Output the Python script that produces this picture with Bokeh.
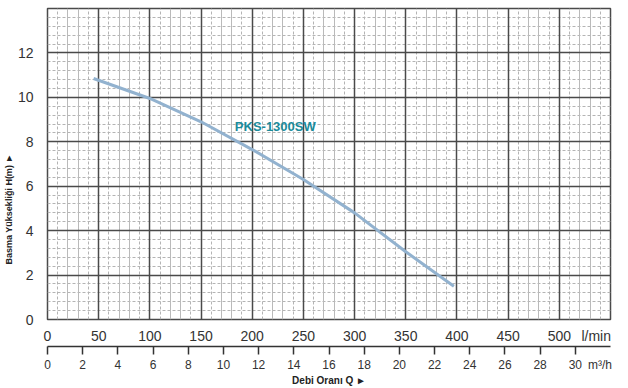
from bokeh.plotting import figure
from bokeh.models import Range1d, LinearAxis, FixedTicker, Grid, Title
from bokeh.core.properties import value
from bokeh.embed import file_html
from bokeh.resources import INLINE

# ---- data ----
flow_lpm = [45, 100, 150, 200, 250, 300, 350, 397]
head_m = [10.85, 9.95, 8.9, 7.65, 6.3, 4.8, 3.05, 1.5]
series_name = ["PKS-1300SW"]
series_label_x = [183]
series_label_y = [8.7]

x_ticks_lpm = [0, 50, 100, 150, 200, 250, 300, 350, 400, 450, 500]
y_ticks = [0, 2, 4, 6, 8, 10, 12]
x_ticks_m3h = [0, 2, 4, 6, 8, 10, 12, 14, 16, 18, 20, 22, 24, 26, 28, 30]
x_max_lpm = 550
x_max_m3h = 32
y_max = 14
unit_lpm = "l/min"
unit_lpm_pos = 536
unit_m3h = "m³/h"
unit_m3h_pos = 31.4
x_title = "Debi Oranı Q ►"
y_title = "Basma Yüksekliği H(m) ►"

FONT = "Liberation Sans"

p = figure(width=628, height=388,
           x_range=Range1d(0, x_max_lpm), y_range=Range1d(0, y_max),
           output_backend="svg", toolbar_location=None,
           min_border_left=45, min_border_right=18, min_border_top=8,
           min_border_bottom=0)
p.extra_x_ranges = {"m3h": Range1d(0, x_max_m3h)}

p.outline_line_color = "#4a4a4a"
p.outline_line_width = 1.5
p.xgrid.visible = False
p.ygrid.visible = False

# ---- grids ----
major_x = list(range(0, x_max_lpm + 1, 50))
minor_x_solid = [v for v in range(0, x_max_lpm, 10) if v % 50 in (20, 30)]
minor_x_dash = [v for v in range(0, x_max_lpm, 10) if v % 50 in (10, 40)]
major_y = list(range(0, y_max + 1, 2))
minor_y = [round(i * 0.4, 2) for i in range(1, 35) if i % 5 != 0]

p.add_layout(Grid(dimension=1, ticker=FixedTicker(ticks=minor_y),
                  grid_line_color="#b4b4b4", grid_line_width=1,
                  grid_line_dash="3 2"))
p.add_layout(Grid(dimension=0, ticker=FixedTicker(ticks=minor_x_dash),
                  grid_line_color="#b4b4b4", grid_line_width=1,
                  grid_line_dash="3 2"))
p.add_layout(Grid(dimension=0, ticker=FixedTicker(ticks=minor_x_solid),
                  grid_line_color="#bababa", grid_line_width=1))
p.add_layout(Grid(dimension=0, ticker=FixedTicker(ticks=major_x),
                  grid_line_color="#4a4a4a", grid_line_width=1.5))
p.add_layout(Grid(dimension=1, ticker=FixedTicker(ticks=major_y),
                  grid_line_color="#4a4a4a", grid_line_width=1.5))

# ---- curve ----
p.line(flow_lpm, head_m, line_color="#92b2cf", line_width=3)
p.text(x=series_label_x, y=series_label_y, text=series_name,
       text_font=value(FONT), text_font_style="bold", text_font_size="13px",
       text_color="#1b8b9b", text_baseline="middle", text_align="left")

# ---- primary x axis (l/min), no tick marks ----
xa = p.xaxis[0]
xa.ticker = FixedTicker(ticks=x_ticks_lpm + [unit_lpm_pos])
xa.major_label_overrides = {unit_lpm_pos: unit_lpm}
xa.axis_line_color = None
xa.major_tick_line_color = None
xa.minor_tick_line_color = None
xa.major_label_text_font = FONT
xa.major_label_text_font_size = "14px"
xa.major_label_text_color = "#333333"
xa.major_label_standoff = 2

# ---- y axis ----
ya = p.yaxis[0]
ya.ticker = FixedTicker(ticks=y_ticks)
ya.axis_line_color = None
ya.major_tick_line_color = None
ya.minor_tick_line_color = None
ya.major_label_text_font = FONT
ya.major_label_text_font_size = "14px"
ya.major_label_text_color = "#333333"
ya.major_label_standoff = 8

p.add_layout(Title(text=y_title, align="left", offset=55, standoff=2,
                   text_font=FONT, text_font_style="bold",
                   text_font_size="9px", text_color="#222222"), "left")

# ---- secondary x axis (m3/h) ----
xa2 = LinearAxis(x_range_name="m3h",
                 ticker=FixedTicker(ticks=x_ticks_m3h + [unit_m3h_pos],
                                    minor_ticks=x_ticks_m3h))
xa2.major_label_overrides = {unit_m3h_pos: unit_m3h}
xa2.axis_line_color = "#333333"
xa2.axis_line_width = 1.5
xa2.major_tick_line_color = None
xa2.major_tick_out = 8
xa2.major_tick_in = 0
xa2.minor_tick_line_color = "#333333"
xa2.minor_tick_line_width = 1.5
xa2.minor_tick_out = 8
xa2.minor_tick_in = 0
xa2.major_label_text_font = FONT
xa2.major_label_text_font_size = "12px"
xa2.major_label_text_color = "#333333"
xa2.major_label_standoff = 3
xa2.axis_label = x_title
xa2.axis_label_text_font = FONT
xa2.axis_label_text_font_style = "bold"
xa2.axis_label_text_font_size = "10px"
xa2.axis_label_text_color = "#222222"
xa2.axis_label_standoff = 0
p.add_layout(xa2, "below")

open("out.html", "w").write(file_html(p, INLINE))
